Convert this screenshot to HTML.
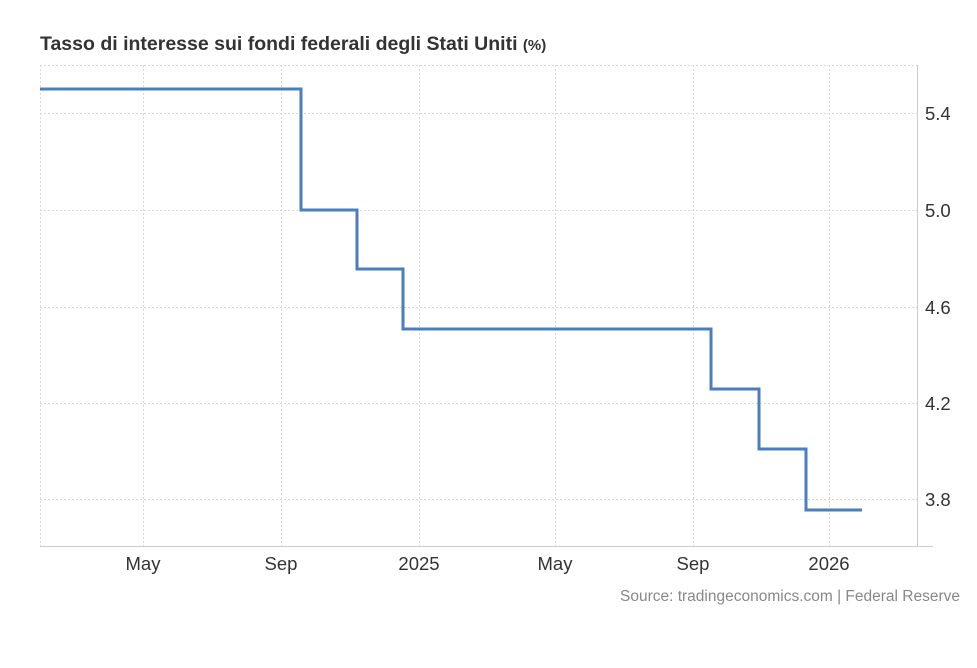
<!DOCTYPE html>
<html><head><meta charset="utf-8"><style>
body{margin:0;background:#fff;width:977px;height:668px;overflow:hidden}
svg{display:block}
text{font-family:"Liberation Sans",Arial,sans-serif}
</style></head><body>
<svg width="977" height="668" viewBox="0 0 977 668">
<text x="40" y="50" font-size="19.5" font-weight="bold" fill="#333">Tasso di interesse sui fondi federali degli Stati Uniti <tspan font-size="15">(%)</tspan></text>
<g stroke="#d9d9d9" stroke-width="1" stroke-dasharray="2,2" fill="none">
<line x1="40" y1="65.5" x2="917" y2="65.5"/>
<line x1="40" y1="113.5" x2="917" y2="113.5"/>
<line x1="40" y1="210.5" x2="917" y2="210.5"/>
<line x1="40" y1="307.5" x2="917" y2="307.5"/>
<line x1="40" y1="403.5" x2="917" y2="403.5"/>
<line x1="40" y1="499.5" x2="917" y2="499.5"/>
<line x1="40.5" y1="65" x2="40.5" y2="546"/>
<line x1="143.5" y1="65" x2="143.5" y2="546"/>
<line x1="281.5" y1="65" x2="281.5" y2="546"/>
<line x1="419.5" y1="65" x2="419.5" y2="546"/>
<line x1="555.5" y1="65" x2="555.5" y2="546"/>
<line x1="693.5" y1="65" x2="693.5" y2="546"/>
<line x1="829.5" y1="65" x2="829.5" y2="546"/>
</g>
<line x1="917.5" y1="65" x2="917.5" y2="546" stroke="#ccc"/>
<line x1="40" y1="546.5" x2="933" y2="546.5" stroke="#ccc"/>
<polyline fill="none" stroke="#4a7ebf" stroke-width="3" points="40,89 301,89 301,210 357,210 357,269 403,269 403,329 711,329 711,389 759,389 759,449 806,449 806,510 862,510"/>
<g font-size="18.5" fill="#333">
<text x="925" y="120">5.4</text>
<text x="925" y="217">5.0</text>
<text x="925" y="314">4.6</text>
<text x="925" y="410">4.2</text>
<text x="925" y="506">3.8</text>
</g>
<g font-size="18.5" fill="#333" text-anchor="middle">
<text x="143" y="570">May</text>
<text x="281" y="570">Sep</text>
<text x="419" y="570">2025</text>
<text x="555" y="570">May</text>
<text x="693" y="570">Sep</text>
<text x="829" y="570">2026</text>
</g>
<text x="960" y="601" font-size="15.5" fill="#888" text-anchor="end">Source: tradingeconomics.com | Federal Reserve</text>
</svg>
</body></html>
